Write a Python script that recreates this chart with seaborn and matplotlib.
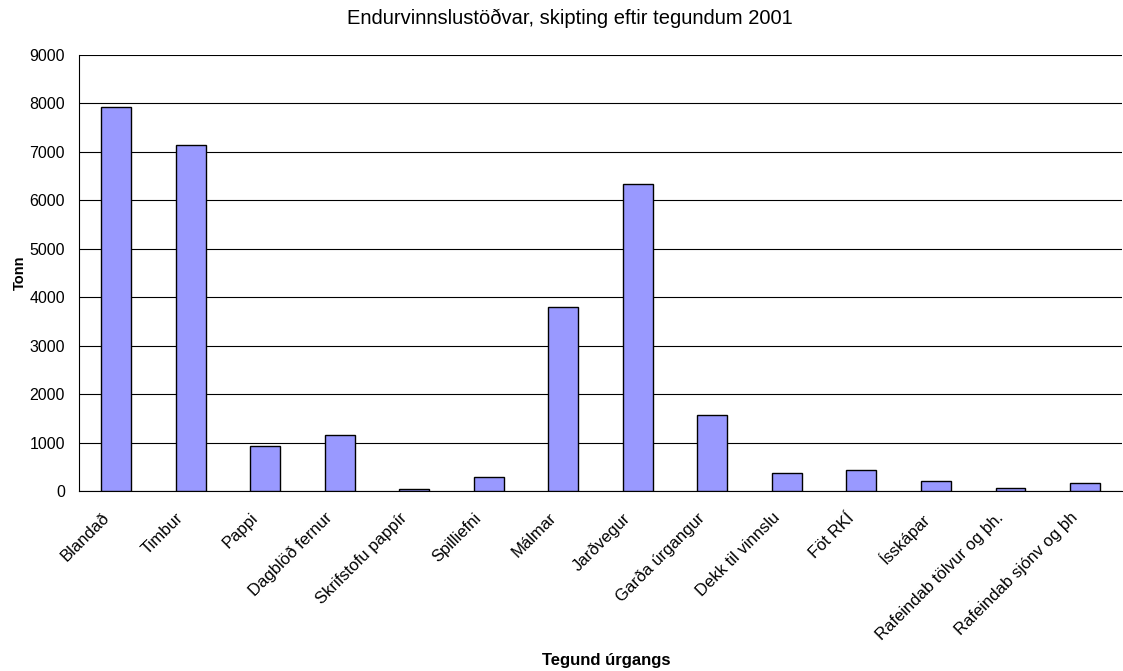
import numpy as np
import pandas as pd
import seaborn as sns
import matplotlib.pyplot as plt
import matplotlib.transforms as mtransforms

categories = ["Blandað", "Timbur", "Pappi", "Dagblöð fernur", "Skrifstofu pappír",
              "Spilliefni", "Málmar", "Jarðvegur", "Garða úrgangur", "Dekk til vinnslu",
              "Föt RKÍ", "Ísskápar", "Rafeindab tölvur og þh.", "Rafeindab sjónv og þh"]
tonn = [7930, 7140, 930, 1160, 40, 290, 3800, 6340, 1570, 370, 430, 210, 60, 170]

df = pd.DataFrame({"Tegund": categories, "Tonn": tonn})

sns.set_style("white")
plt.rcParams['font.family'] = ['Liberation Sans', 'DejaVu Sans']
plt.rcParams['text.color'] = 'black'
plt.rcParams['xtick.color'] = 'black'
plt.rcParams['ytick.color'] = 'black'
plt.rcParams['axes.labelcolor'] = 'black'

fig = plt.figure(figsize=(11.23, 6.71), dpi=100)
ax = fig.add_axes([0.0703, 0.268, 0.929, 0.650])

sns.barplot(data=df, x="Tegund", y="Tonn", color="#9999FF", edgecolor="black",
            linewidth=1, width=0.4, saturation=1, ax=ax, zorder=3)

ax.set_ylim(0, 9000)
ax.set_xlim(-0.5, len(categories) - 0.5)
ax.set_yticks(range(0, 9001, 1000))
ax.yaxis.grid(True, color="black", linewidth=0.8, zorder=0)
ax.set_axisbelow(True)

for s in ["top", "right"]:
    ax.spines[s].set_visible(False)
for s in ["left", "bottom"]:
    ax.spines[s].set_color("black")
    ax.spines[s].set_linewidth(0.8)

# ticks between categories
ax.set_xticks(np.arange(-0.5, len(categories), 1), minor=True)
ax.tick_params(axis="x", which="minor", length=5, color="black", direction="out")
ax.tick_params(axis="x", which="major", length=0, pad=5)
ax.tick_params(axis="y", length=5, color="black", direction="out", labelsize=11.5, pad=5)
ax.set_xticks(range(len(categories)))
ax.set_xticklabels(categories, rotation=45, ha="right", rotation_mode="anchor", fontsize=12)

# nudge the rotated labels down-left like the original
offset = mtransforms.ScaledTranslation(-0.15, -0.12, fig.dpi_scale_trans)
for lab in ax.get_xticklabels():
    lab.set_transform(lab.get_transform() + offset)

ax.set_xlabel("Tegund úrgangs", fontsize=12, fontweight="bold")
ax.set_ylabel("Tonn", fontsize=10.5, fontweight="bold")
ax.xaxis.set_label_coords(0.505, -0.37)
ax.yaxis.set_label_coords(-0.05, 0.5)
ax.set_title("Endurvinnslustöðvar, skipting eftir tegundum 2001", fontsize=14.5, pad=22, x=0.471)

fig.savefig("out.png", dpi=100)
